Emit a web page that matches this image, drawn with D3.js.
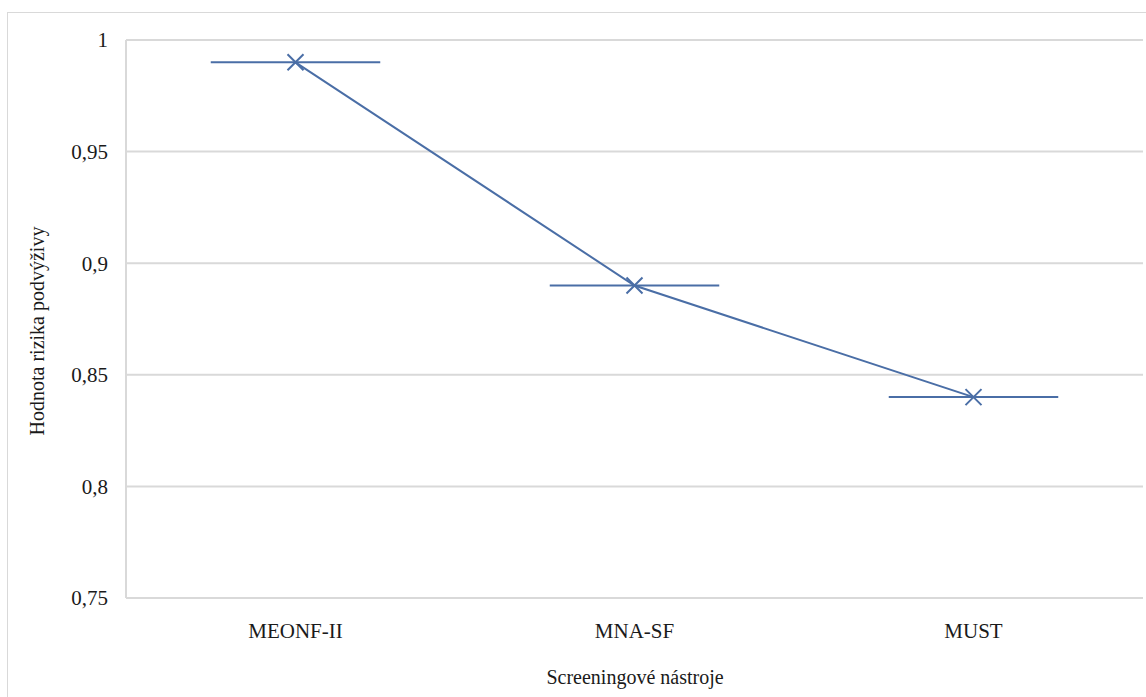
<!DOCTYPE html>
<html><head><meta charset="utf-8">
<script src="https://cdn.jsdelivr.net/npm/d3@7"></script>
<style>body{margin:0;background:#fff;} svg{display:block;}</style>
</head><body>
<svg id="c" width="1146" height="697"></svg>
<script>
const categories = ["MEONF-II", "MNA-SF", "MUST"];
const values = [0.99, 0.89, 0.84];
const yTicks = [0.75, 0.8, 0.85, 0.9, 0.95, 1];
const yTitle = "Hodnota rizika podvýživy";
const xTitle = "Screeningové nástroje";

const svg = d3.select("#c");
const FONT = '"Liberation Serif", Tinos, "Times New Roman", "Nimbus Roman", FreeSerif, "DejaVu Serif", "Noto Serif"';
svg.style("font-family", FONT);
const color = "#4a6ea6";
const m = {left:126, right:1143, top:40, bottom:598};

svg.append("rect").attr("x",7.5).attr("y",12.5).attr("width",1150).attr("height",700)
  .attr("fill","#fff").attr("stroke","#d9d9d9").attr("stroke-width",1);

const x = d3.scaleBand().domain(categories).range([m.left, m.right]);
const y = d3.scaleLinear().domain([0.75, 1]).range([m.bottom, m.top]);

svg.append("g").selectAll("line").data(yTicks).join("line")
  .attr("x1", m.left).attr("x2", m.right)
  .attr("y1", d=>y(d)).attr("y2", d=>y(d))
  .attr("stroke","#d9d9d9").attr("stroke-width",2);
svg.append("line").attr("x1",m.left).attr("x2",m.left).attr("y1",m.top).attr("y2",m.bottom)
  .attr("stroke","#d9d9d9").attr("stroke-width",2);

const fmt = d => String(d).replace(".", ",");
svg.append("g").selectAll("text").data(yTicks).join("text")
  .attr("x", 108).attr("y", d=>y(d)).attr("dy","0.35em")
  .attr("text-anchor","end").style("font-family",FONT).attr("font-size",21).attr("fill","#1a1a1a")
  .text(fmt);

svg.append("g").selectAll("text").data(categories).join("text")
  .attr("x", d=>x(d)+x.bandwidth()/2).attr("y", 638)
  .attr("text-anchor","middle").style("font-family",FONT).attr("font-size",21).attr("fill","#1a1a1a")
  .text(d=>d);

svg.append("text").attr("x", 635).attr("y", 684).attr("text-anchor","middle")
  .style("font-family",FONT).attr("font-size",20).attr("fill","#1a1a1a").text(xTitle);
svg.append("text").attr("transform","translate(44,331) rotate(-90)").attr("text-anchor","middle")
  .style("font-family",FONT).attr("font-size",20).attr("fill","#1a1a1a").text(yTitle);

const pts = categories.map((c,i)=>({c, v: values[i]}));
const cx = d => x(d.c) + x.bandwidth()/2;

svg.append("g").selectAll("line").data(pts).join("line")
  .attr("x1", d=>cx(d) - x.bandwidth()/4).attr("x2", d=>cx(d) + x.bandwidth()/4)
  .attr("y1", d=>y(d.v)).attr("y2", d=>y(d.v))
  .attr("stroke", color).attr("stroke-width", 2);

svg.append("path").datum(pts)
  .attr("d", d3.line().x(cx).y(d=>y(d.v)))
  .attr("fill","none").attr("stroke",color).attr("stroke-width",2);

const s = 8;
const mk = svg.append("g").selectAll("g").data(pts).join("g")
  .attr("transform", d=>`translate(${cx(d)},${y(d.v)})`);
mk.append("path").attr("d", `M${-s},${-s}L${s},${s}M${-s},${s}L${s},${-s}`)
  .attr("stroke",color).attr("stroke-width",2).attr("fill","none");
</script>
</body></html>
